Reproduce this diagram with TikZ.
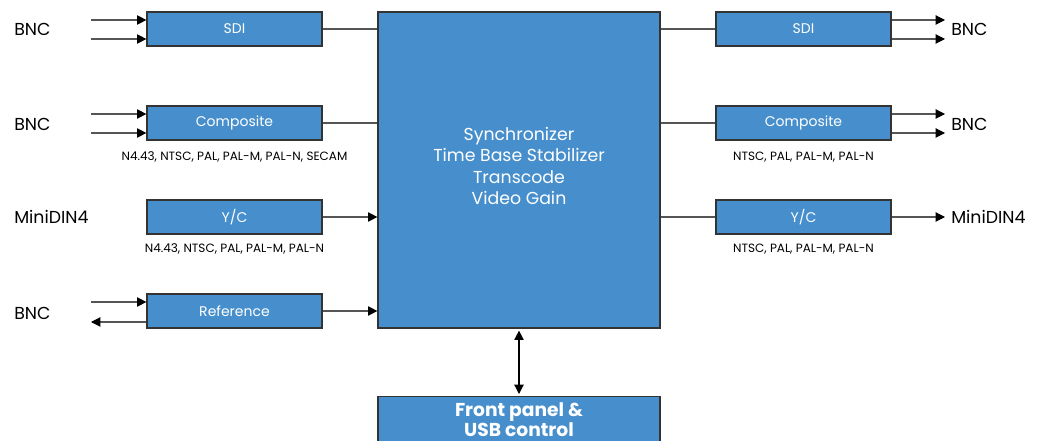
\documentclass[tikz,border=0pt]{standalone}
\usepackage{fontspec}
\setmainfont{Poppins}
\usetikzlibrary{arrows.meta}
\definecolor{boxblue}{HTML}{478FCC}
\definecolor{edge}{HTML}{333333}
\definecolor{wire}{HTML}{555555}
\begin{document}
\begin{tikzpicture}[x=0.75pt,y=-0.75pt,
  blk/.style={draw=edge, line width=0.9pt, fill=boxblue, text=white, minimum width=131.25pt, minimum height=25.5pt, inner sep=0pt, font=\fontsize{10.5}{12}\selectfont},
  lbl/.style={font=\fontsize{13}{15}\selectfont, inner sep=0pt},
  sub/.style={font=\fontsize{9}{11}\selectfont, inner sep=0pt},
  wireln/.style={draw=wire, line width=0.8pt},
  arr/.style={wireln, -{Triangle[length=7pt,width=7pt,black]}},
  darr/.style={draw=black, line width=0.9pt, {Triangle[length=7pt,width=7pt]}-{Triangle[length=7pt,width=7pt]}}]
\useasboundingbox (0,0) rectangle (1040,441);
% central
\node[blk, minimum width=211.5pt, minimum height=237pt] (core) at (519,170) {};
\node[text=white, align=center, font=\fontsize{13}{16}\selectfont] (coretxt) at (519,166) {Synchronizer\\Time Base Stabilizer\\Transcode\\Video Gain};
\node[blk, minimum width=211.5pt, minimum height=51pt, anchor=north] (front) at (519,396) {};
\node[text=white, align=center, font=\fontsize{14}{15}\selectfont\bfseries] (fronttxt) at (519,420) {Front panel \&\\USB control};
% left blocks
\node[blk] (lsdi) at (234.5,29) {SDI};
\node[blk] (lcomp) at (234.5,123) {Composite};
\node[blk] (lyc) at (234.5,217) {Y/C};
\node[blk] (lref) at (234.5,311) {Reference};
% right blocks
\node[blk] (rsdi) at (803.5,29) {SDI};
\node[blk] (rcomp) at (803.5,123) {Composite};
\node[blk] (ryc) at (803.5,217) {Y/C};
% sub labels
\node[sub] (lcompsub) at (234.5,157) {N4.43, NTSC, PAL, PAL-M, PAL-N, SECAM};
\node[sub] (lycsub) at (234.5,249) {N4.43, NTSC, PAL, PAL-M, PAL-N};
\node[sub] (rcompsub) at (803.5,157) {NTSC, PAL, PAL-M, PAL-N};
\node[sub] (rycsub) at (803.5,249) {NTSC, PAL, PAL-M, PAL-N};
% outer labels
\node[lbl, anchor=west] (bnc1) at (14,29) {BNC};
\node[lbl, anchor=west] (bnc2) at (14,124) {BNC};
\node[lbl, anchor=west] (mini1) at (14,217) {MiniDIN4};
\node[lbl, anchor=west] (bnc3) at (14,313) {BNC};
\node[lbl, anchor=west] (bnc4) at (951,29) {BNC};
\node[lbl, anchor=west] (bnc5) at (951,124) {BNC};
\node[lbl, anchor=west] (mini2) at (951,217) {MiniDIN4};
% input coordinates
\coordinate (i1) at (91,20); \coordinate (i2) at (91,39);
\coordinate (i3) at (91,114); \coordinate (i4) at (91,133);
\coordinate (i5) at (91,302); \coordinate (i6) at (91,322);
\coordinate (o1) at (945,20); \coordinate (o2) at (945,39);
\coordinate (o3) at (945,114); \coordinate (o4) at (945,133);
\coordinate (o5) at (945,217);
% inputs
\draw[arr] (i1) -- (i1 -| lsdi.west);
\draw[arr] (i2) -- (i2 -| lsdi.west);
\draw[arr] (i3) -- (i3 -| lcomp.west);
\draw[arr] (i4) -- (i4 -| lcomp.west);
\draw[arr] (i5) -- (i5 -| lref.west);
\draw[arr] (i6 -| lref.west) -- (i6);
% to core
\draw[wireln] (lsdi.east) -- (lsdi.east -| core.west);
\draw[wireln] (lcomp.east) -- (lcomp.east -| core.west);
\draw[arr] (lyc.east) -- (lyc.east -| core.west);
\draw[arr] (lref.east) -- (lref.east -| core.west);
% from core
\draw[wireln] (rsdi.west -| core.east) -- (rsdi.west);
\draw[wireln] (rcomp.west -| core.east) -- (rcomp.west);
\draw[wireln] (ryc.west -| core.east) -- (ryc.west);
% outputs
\draw[arr] (o1 -| rsdi.east) -- (o1);
\draw[arr] (o2 -| rsdi.east) -- (o2);
\draw[arr] (o3 -| rcomp.east) -- (o3);
\draw[arr] (o4 -| rcomp.east) -- (o4);
\draw[arr] (ryc.east) -- (o5);
% control
\draw[darr] ([yshift=-1.5pt]core.south) -- ([yshift=1.5pt]front.north);
\end{tikzpicture}
\end{document}
